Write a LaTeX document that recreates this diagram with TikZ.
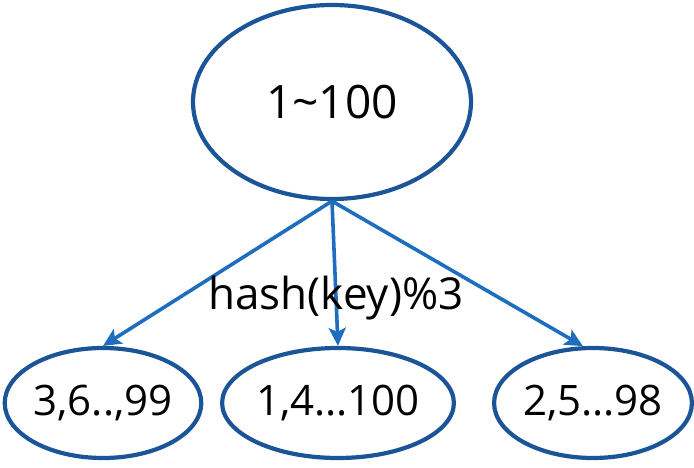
\documentclass[tikz,border=0pt]{standalone}
\usepackage{fontspec}
\setmainfont{Open Sans}
\usepackage{tikz}
\usetikzlibrary{arrows.meta, shapes.geometric}
\definecolor{rimblue}{HTML}{1B5598}
\definecolor{linkblue}{HTML}{1F6DBF}

\begin{document}
\begin{tikzpicture}[x=1pt, y=-1pt, >={Stealth[length=18pt, width=17pt, inset=4pt]},
  bucket/.style={ellipse, draw=rimblue, line width=4.2pt, inner sep=0pt,
    minimum width=194pt, minimum height=110pt, font=\fontsize{42}{48}\selectfont},
  link/.style={->, draw=linkblue, line width=3.6pt}]
  \useasboundingbox (0,0) rectangle (694,468);
  % range of keys
  \node[bucket, minimum width=278pt, minimum height=194pt,
    font=\fontsize{46}{52}\selectfont] (all) at (332,102) {1\textasciitilde100};
  % the three buckets
  \node[bucket] (left)  at (103,403) {3,6..,99};
  \node[bucket] (mid)   at (338,403) {1,4...100};
  \node[bucket] (right) at (593,403) {2,5...98};
  % hashing
  \draw[link] (all.south) -- (left.north);
  \draw[link] (all.south) -- (mid.north);
  \draw[link] (all.south) -- (right.100);
  \node[font=\fontsize{44}{50}\selectfont] (rule) at (336,298) {hash(key)\%3};
\end{tikzpicture}
\end{document}
